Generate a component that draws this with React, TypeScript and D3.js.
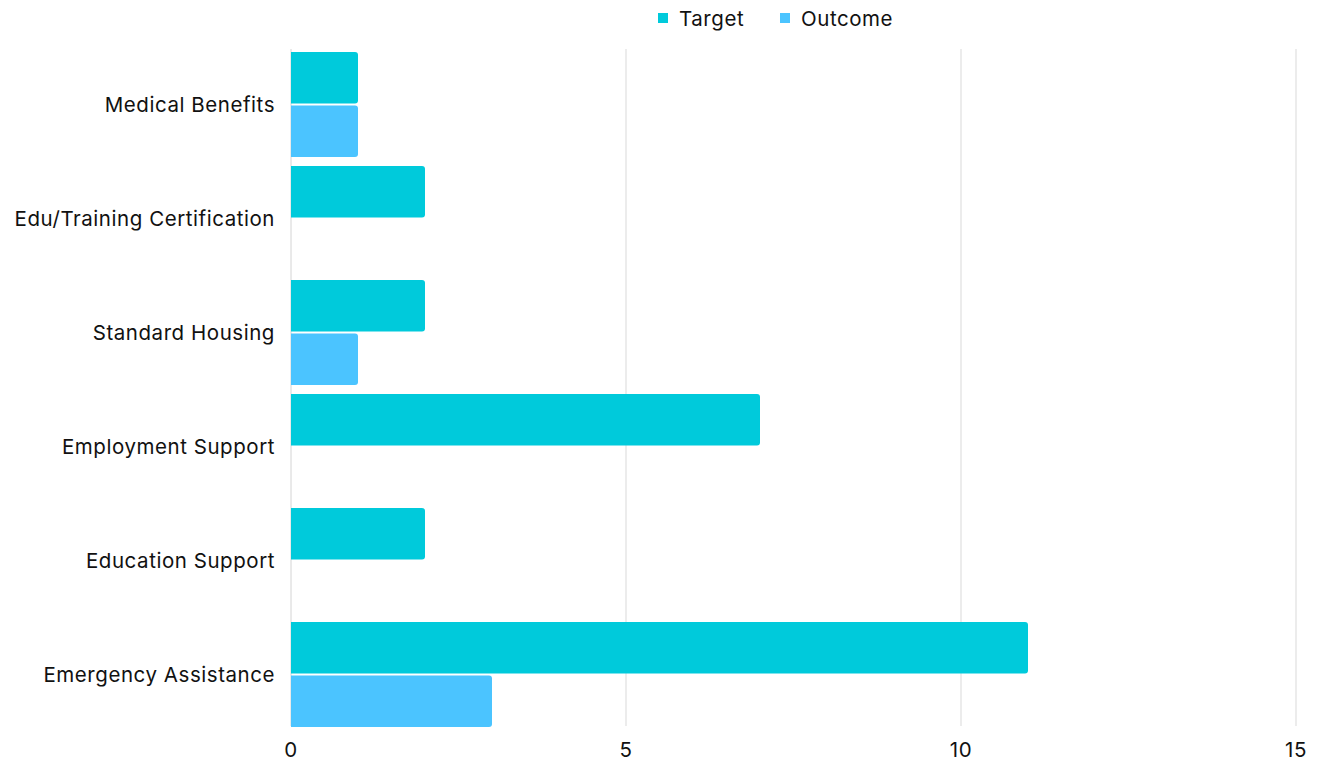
import React from "react";
import * as d3 from "d3";

const categories = [
  "Medical Benefits",
  "Edu/Training Certification",
  "Standard Housing",
  "Employment Support",
  "Education Support",
  "Emergency Assistance",
];
const seriesNames = ["Target", "Outcome"];
const targetValues = [1, 2, 2, 7, 2, 11];
const outcomeValues = [1, 0, 1, 0, 0, 3];
const xTicks = [0, 5, 10, 15];
const colors = ["#00CADB", "#4BC4FF"];

const W = 1322;
const H = 761;
const FONT = "Inter, 'Noto Sans', sans-serif";
const FS = 20.5;
const LS = 0.55;

function barPath(x0: number, y: number, w: number, h: number, r: number) {
  if (w <= 0) return "";
  const rr = Math.min(r, w, h / 2);
  return `M${x0},${y}H${x0 + w - rr}Q${x0 + w},${y} ${x0 + w},${y + rr}V${y + h - rr}Q${x0 + w},${y + h} ${x0 + w - rr},${y + h}H${x0}Z`;
}

export default function App() {
  const x = d3.scaleLinear().domain([0, 15]).range([291, 1296]);
  const y = d3.scaleBand<string>().domain(categories).range([47.5, 731.5]).paddingInner(0.08).paddingOuter(0.04);
  const inner = d3.scaleBand<string>().domain(seriesNames).range([0, y.bandwidth()]).paddingInner(0.04);
  const data = [targetValues, outcomeValues];

  return (
    <svg width={W} height={H} style={{ position: "absolute", left: 0, top: 0, background: "#fff" }} fontFamily={FONT} letterSpacing={LS}>
      {xTicks.map((t) => (
        <g key={t}>
          <line x1={x(t)} x2={x(t)} y1={49} y2={726} stroke={t === 0 ? "#d4d4d4" : "#d9d9d9"} strokeWidth={1} />
          <text x={x(t)} y={757} textAnchor="middle" fontSize={FS} fill="#111">{t}</text>
        </g>
      ))}
      {categories.map((c, i) => (
        <g key={c}>
          {seriesNames.map((s, j) => (
            <path
              key={s}
              d={barPath(x(0), (y(c) as number) + (inner(s) as number), x(data[j][i]) - x(0), inner.bandwidth(), 3)}
              fill={colors[j]}
            />
          ))}
          <text x={275} y={(y(c) as number) + y.bandwidth() / 2} textAnchor="end" dominantBaseline="central" fontSize={FS} fill="#111">{c}</text>
        </g>
      ))}
      <g>
        <rect x={658} y={13} width={10} height={10} fill={colors[0]} />
        <text x={679} y={18} dominantBaseline="central" fontSize={FS} fill="#111">{seriesNames[0]}</text>
        <rect x={780} y={13} width={10} height={10} fill={colors[1]} />
        <text x={801} y={18} dominantBaseline="central" fontSize={FS} fill="#111">{seriesNames[1]}</text>
      </g>
    </svg>
  );
}
